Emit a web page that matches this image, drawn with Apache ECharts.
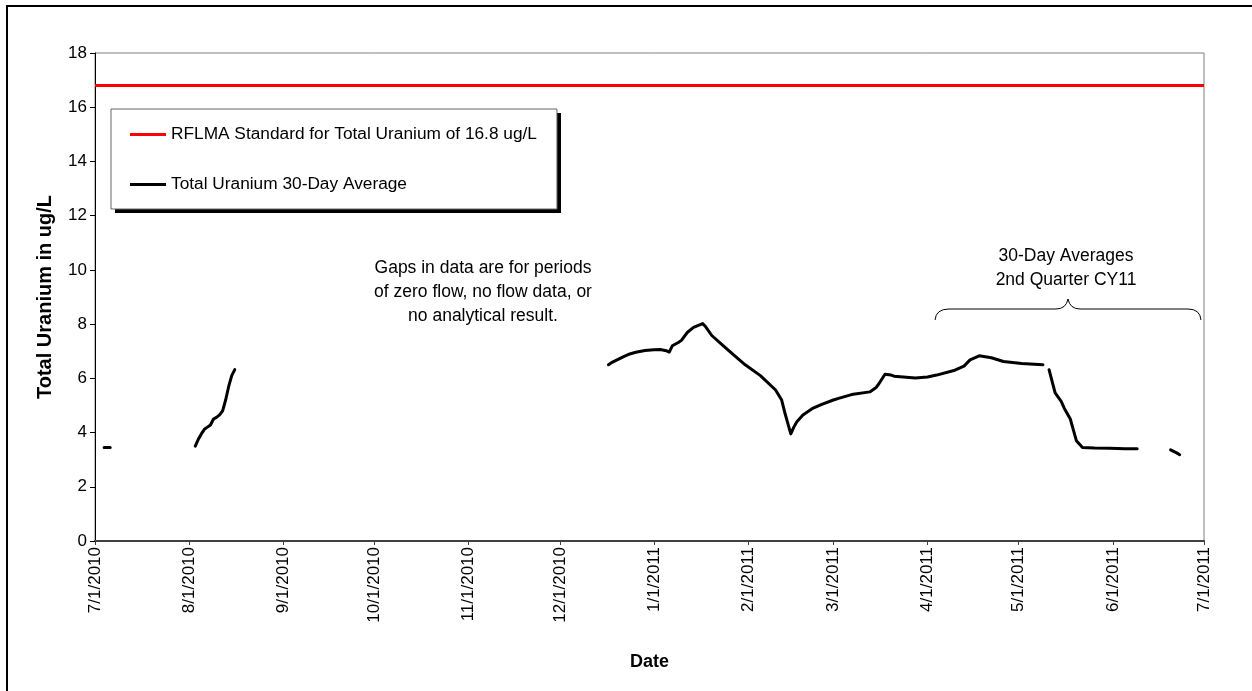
<!DOCTYPE html>
<html>
<head>
<meta charset="utf-8">
<script src="https://cdn.jsdelivr.net/npm/echarts@6/dist/echarts.min.js"></script>
<style>
html,body{margin:0;padding:0;background:#fff;}
#chart{width:1252px;height:691px;}
</style>
</head>
<body>
<div id="chart"></div>
<script>
// ---- data ----
var xTickDates = ['2010-07-01','2010-08-01','2010-09-01','2010-10-01','2010-11-01','2010-12-01',
  '2011-01-01','2011-02-01','2011-03-01','2011-04-01','2011-05-01','2011-06-01','2011-07-01'];
var yTicks = [0,2,4,6,8,10,12,14,16,18];

var standardDates = ['2010-07-01','2011-07-01'];
var standardValues = [16.8, 16.8];

var uraniumDates = [
  '2010-07-04','2010-07-05','2010-07-06',
  '2010-07-20',
  '2010-08-03','2010-08-04','2010-08-05','2010-08-06','2010-08-07','2010-08-08','2010-08-09',
  '2010-08-10','2010-08-11','2010-08-12','2010-08-13','2010-08-14','2010-08-15','2010-08-16',
  '2010-10-01',
  '2010-12-17','2010-12-18','2010-12-20','2010-12-22','2010-12-24','2010-12-26','2010-12-29',
  '2011-01-01','2011-01-03','2011-01-05','2011-01-06','2011-01-07','2011-01-09','2011-01-10',
  '2011-01-12','2011-01-14','2011-01-17','2011-01-18','2011-01-20','2011-01-24','2011-01-27',
  '2011-01-31','2011-02-05','2011-02-10','2011-02-12','2011-02-13','2011-02-14','2011-02-15',
  '2011-02-16','2011-02-17','2011-02-19','2011-02-22','2011-02-25','2011-03-01','2011-03-03',
  '2011-03-07','2011-03-13','2011-03-15','2011-03-16','2011-03-18','2011-03-20','2011-03-21',
  '2011-03-28','2011-04-01','2011-04-04','2011-04-10','2011-04-13','2011-04-15','2011-04-18',
  '2011-04-22','2011-04-26','2011-05-02','2011-05-09',
  '2011-05-10',
  '2011-05-11','2011-05-13','2011-05-15','2011-05-16','2011-05-18','2011-05-19','2011-05-20',
  '2011-05-22','2011-05-26','2011-05-31','2011-06-05','2011-06-09',
  '2011-06-15',
  '2011-06-20','2011-06-22','2011-06-23'
];
var uraniumValues = [
  3.45,3.45,3.45,
  null,
  3.5,3.75,3.95,4.12,4.2,4.28,4.5,
  4.56,4.65,4.8,5.2,5.7,6.1,6.32,
  null,
  6.5,6.58,6.69,6.8,6.9,6.96,7.03,
  7.05,7.06,7.02,6.97,7.2,7.32,7.4,
  7.7,7.88,8.02,7.9,7.58,7.18,6.88,
  6.5,6.1,5.57,5.2,4.75,4.35,3.95,
  4.2,4.4,4.65,4.88,5.03,5.2,5.27,
  5.4,5.5,5.65,5.8,6.15,6.12,6.08,
  6.01,6.05,6.12,6.3,6.45,6.68,6.83,
  6.76,6.62,6.55,6.5,
  null,
  6.32,5.46,5.15,4.9,4.5,4.1,3.7,
  3.45,3.43,3.42,3.4,3.4,
  null,
  3.36,3.25,3.18
];

var FONT = '"Liberation Sans", Arial, sans-serif';
var FS = 17;

function toTs(s){ var p = s.split('-'); return Date.UTC(+p[0], +p[1]-1, +p[2]); }
function fmt(ts){ var d = new Date(ts); return (d.getUTCMonth()+1) + '/' + d.getUTCDate() + '/' + d.getUTCFullYear(); }

var tickTs = xTickDates.map(toTs);
var stdData = standardDates.map(function(d,i){ return [toTs(d), standardValues[i]]; });
var uData = uraniumDates.map(function(d,i){ return [toTs(d), uraniumValues[i]]; });

function txt(s, x, y){
  return {type:'text', silent:true, z:100, style:{text:s, x:x, y:y, align:'center', verticalAlign:'middle', font:'17.5px '+FONT, fill:'#000'}};
}
var braceStyle = {fill:null, stroke:'#000', lineWidth:1};

var chart = echarts.init(document.getElementById('chart'), null, {renderer:'canvas'});
chart.setOption({
  animation:false,
  backgroundColor:'#fff',
  textStyle:{fontFamily:FONT},
  grid:{left:95, right:48, top:53, bottom:150, show:true, borderColor:'#808080', borderWidth:1, backgroundColor:'#fff'},
  xAxis:{
    type:'value',
    min:tickTs[0], max:tickTs[tickTs.length-1],
    name:'Date', nameLocation:'middle', nameGap:112,
    nameTextStyle:{fontFamily:FONT, fontSize:18, fontWeight:'bold', color:'#000'},
    axisLine:{show:true, lineStyle:{color:'#404040', width:2}},
    axisTick:{show:true, length:4, lineStyle:{color:'#404040', width:1}, customValues:tickTs},
    axisLabel:{show:true, rotate:90, margin:6, fontFamily:FONT, fontSize:FS, color:'#000',
      customValues:tickTs, formatter:function(v){ return fmt(v); }, hideOverlap:false},
    splitLine:{show:false}
  },
  yAxis:{
    type:'value', min:0, max:18, interval:2,
    name:'Total Uranium in ug/L', nameLocation:'middle', nameGap:40,
    nameTextStyle:{fontFamily:FONT, fontSize:20, fontWeight:'bold', color:'#000'},
    axisLine:{show:true, lineStyle:{color:'#000', width:1}},
    axisTick:{show:true, length:5, lineStyle:{color:'#000'}},
    axisLabel:{fontFamily:FONT, fontSize:FS, color:'#000', margin:8,
      formatter:function(v){ return yTicks.indexOf(v) >= 0 ? String(v) : ''; }},
    splitLine:{show:false}
  },
  legend:{
    left:111, top:109, orient:'vertical', z:10,
    padding:[17,20,16,19], itemGap:33, itemWidth:36, itemHeight:3, icon:'rect',
    backgroundColor:'#fff', borderColor:'#666', borderWidth:1,
    textStyle:{fontFamily:FONT, fontSize:17.3, color:'#000'},
    data:['RFLMA Standard for Total Uranium of 16.8 ug/L','Total Uranium 30-Day Average']
  },
  series:[
    {name:'RFLMA Standard for Total Uranium of 16.8 ug/L', type:'line', data:stdData,
     symbol:'none', lineStyle:{color:'#ff0000', width:3}, itemStyle:{color:'#ff0000'}, z:3},
    {name:'Total Uranium 30-Day Average', type:'line', data:uData, connectNulls:false,
     symbol:'none', lineStyle:{color:'#000', width:3, cap:'round', join:'round'}, itemStyle:{color:'#000'}, z:4}
  ],
  graphic:[
    {type:'rect', silent:true, z:1, shape:{x:115, y:113, width:446, height:100},
     style:{fill:'#000', stroke:null}},
    {type:'rect', silent:true, z:100, shape:{x:7, y:6, width:1260, height:700},
     style:{fill:null, stroke:'#000', lineWidth:2}},
    txt('Gaps in data are for periods', 483, 268),
    txt('of zero flow, no flow data, or', 483, 292),
    txt('no analytical result.', 483, 316),
    txt('30-Day Averages', 1066, 256),
    txt('2nd Quarter CY11', 1066, 280),
    {type:'bezierCurve', silent:true, z:100, shape:{x1:935, y1:320, cpx1:936, cpy1:309, x2:949, y2:309}, style:braceStyle},
    {type:'line', silent:true, z:100, shape:{x1:949, y1:309, x2:1056, y2:309}, style:braceStyle},
    {type:'bezierCurve', silent:true, z:100, shape:{x1:1056, y1:309, cpx1:1066, cpy1:309, x2:1068, y2:299}, style:braceStyle},
    {type:'bezierCurve', silent:true, z:100, shape:{x1:1068, y1:299, cpx1:1070, cpy1:309, x2:1080, y2:309}, style:braceStyle},
    {type:'line', silent:true, z:100, shape:{x1:1080, y1:309, x2:1188, y2:309}, style:braceStyle},
    {type:'bezierCurve', silent:true, z:100, shape:{x1:1188, y1:309, cpx1:1200, cpy1:309, x2:1201, y2:320}, style:braceStyle}
  ]
});
</script>
</body>
</html>
